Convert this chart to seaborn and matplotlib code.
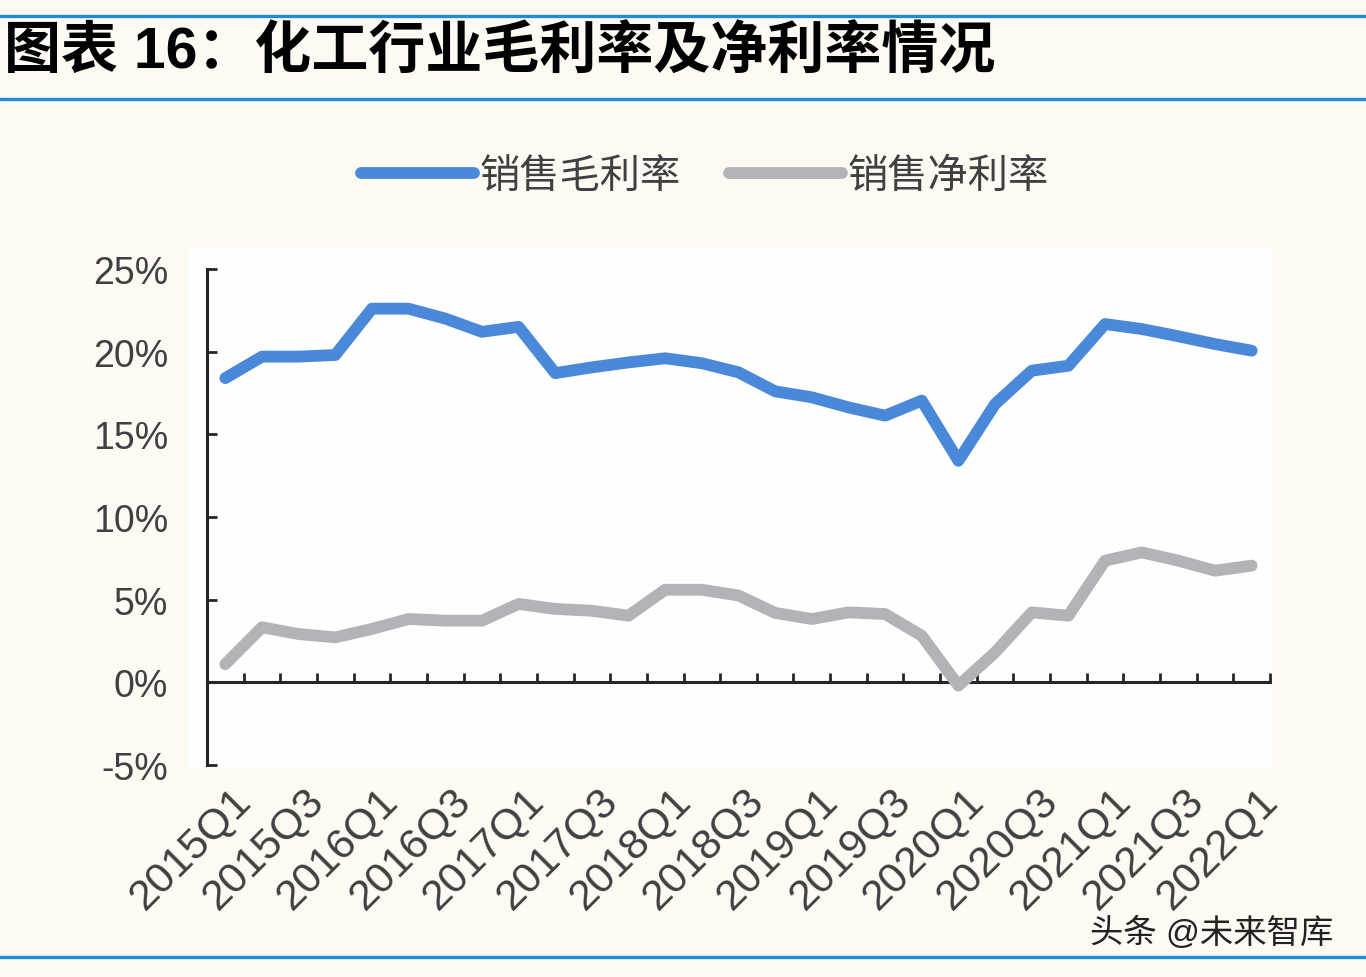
import matplotlib
matplotlib.use("Agg")
import matplotlib.pyplot as plt
from matplotlib.lines import Line2D
from matplotlib.patches import Rectangle
from matplotlib.ticker import FuncFormatter, FixedLocator
from matplotlib.transforms import ScaledTranslation
import seaborn as sns
import pandas as pd
import numpy as np

# ---- data ----
quarters = [f"{y}Q{q}" for y in range(2015, 2022) for q in range(1, 5)] + ["2022Q1"]
gross_margin = [18.4, 19.7, 19.7, 19.8, 22.6, 22.6, 22.0, 21.2, 21.5, 18.7,
                19.05, 19.35, 19.6, 19.3, 18.75, 17.6, 17.24, 16.63, 16.13, 17.04,
                13.4, 16.83, 18.85, 19.15, 21.67, 21.37, 20.93, 20.46, 20.06]
net_margin = [1.1, 3.33, 2.92, 2.72, 3.23, 3.83, 3.73, 3.73, 4.74, 4.44,
              4.33, 4.03, 5.6, 5.6, 5.25, 4.2, 3.83, 4.23, 4.13, 2.82,
              -0.2, 1.81, 4.23, 4.03, 7.36, 7.86, 7.36, 6.75, 7.06]
series_names = ["销售毛利率", "销售净利率"]
series_colors = ["#4a88d9", "#b3b3b7"]
y_ticks = [-5, 0, 5, 10, 15, 20, 25]

df = pd.DataFrame({
    "idx": list(range(len(quarters))) * 2,
    "value": gross_margin + net_margin,
    "series": [series_names[0]] * len(quarters) + [series_names[1]] * len(quarters),
})

sns.set_theme(style="white")
plt.rcParams["font.family"] = ["Liberation Sans", "Noto Sans CJK SC", "DejaVu Sans"]

W, H = 1366, 978
fig = plt.figure(figsize=(W / 100, H / 100), dpi=100)
bg = "#fcfaf3"
fig.patch.set_facecolor(bg)

# white panel behind plot
fig.patches.append(Rectangle((188 / W, 1 - 770 / H), (1272 - 188) / W, (770 - 248) / H,
                             transform=fig.transFigure, facecolor="#fefefe",
                             edgecolor="none", zorder=-5))

ax = fig.add_axes([207 / W, 1 - 766 / H, (1270 - 207) / W, (766 - 270) / H])
ax.set_facecolor("#fefefe")
ax.set_zorder(1)

sns.lineplot(data=df, x="idx", y="value", hue="series", palette=dict(zip(series_names, series_colors)),
             linewidth=8.5, ax=ax, legend=True, zorder=3,
             solid_capstyle="round")

ax.set_xlim(-0.5, len(quarters) - 0.5)
ax.set_ylim(-5, 25)
ax.set_xlabel("")
ax.set_ylabel("")

# spines
for s in ["top", "right"]:
    ax.spines[s].set_visible(False)
axis_col = "#262626"
ax.spines["left"].set_color(axis_col)
ax.spines["left"].set_linewidth(2.2)
ax.spines["bottom"].set_position(("data", 0))
ax.spines["bottom"].set_color(axis_col)
ax.spines["bottom"].set_linewidth(2.2)

# y ticks
ax.yaxis.set_major_locator(FixedLocator(y_ticks))
ax.yaxis.set_major_formatter(FuncFormatter(lambda v, p: f"{v:.0f}%"))
ax.tick_params(axis="y", which="major", direction="in", length=7, width=2, color=axis_col,
               labelsize=27, labelcolor="#404040", pad=28, left=True)

# x ticks: labels every other quarter, boundary tick marks on the zero line
ax.set_xticks(list(range(0, len(quarters), 2)))
ax.set_xticklabels(quarters[::2])
ax.set_xticks(np.arange(0.5, len(quarters), 1.0), minor=True)
ax.tick_params(axis="x", which="major", length=0, labelsize=31, labelcolor="#404040", pad=80)
ax.tick_params(axis="x", which="minor", direction="in", length=6.5, width=2, color=axis_col, bottom=True)
offset = ScaledTranslation(14 / 72, 0, fig.dpi_scale_trans)
for lab in ax.get_xticklabels():
    lab.set_rotation(45)
    lab.set_rotation_mode("anchor")
    lab.set_ha("right")
    lab.set_va("center")
    lab.set_transform(lab.get_transform() + offset)

# legend
handles, labels = ax.get_legend_handles_labels()
ax.legend(handles, labels, loc="center", bbox_to_anchor=(705 / W, 1 - 177 / H),
          bbox_transform=fig.transFigure, ncol=2, frameon=False, fontsize=29,
          handlelength=2.8, handletextpad=0.15, columnspacing=1.2, labelcolor="#404040")

# title and decorative rules
rule_col = "#1f8dd6"
for yy in [16.5, 100, 958]:
    fig.add_artist(Line2D([0, 1], [1 - yy / H, 1 - yy / H], transform=fig.transFigure,
                          color=rule_col, linewidth=2.4))
fig.text(4 / W, 1 - 53 / H, "图表 16：化工行业毛利率及净利率情况", fontsize=41, fontweight="bold",
         color="black", ha="left", va="center")
fig.text(1090 / W, 1 - 933 / H, "头条 @未来智库", fontsize=24, color="#222222",
         ha="left", va="center")

fig.savefig("out.png", dpi=100, facecolor=bg)
